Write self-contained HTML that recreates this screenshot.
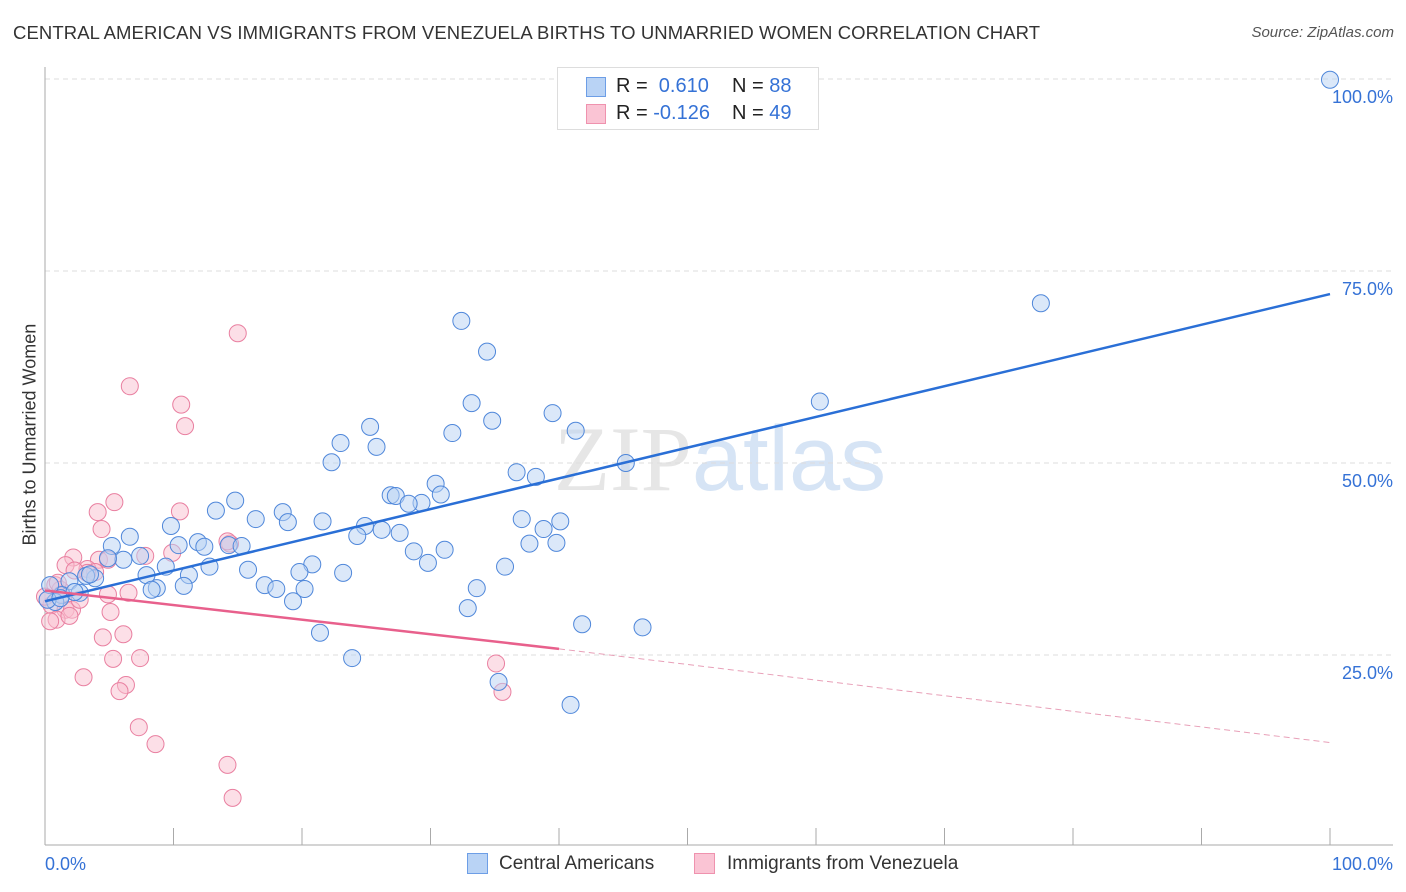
<!DOCTYPE html>
<html><head><meta charset="utf-8"><style>
body{margin:0;background:#fff;font-family:"Liberation Sans",sans-serif;}
#wrap{position:relative;width:1406px;height:892px;overflow:hidden;}
.t{position:absolute;white-space:nowrap;}
</style></head><body>
<div id="wrap">
<div class="t" style="left:13px;top:22px;font-size:18.5px;letter-spacing:0.1px;color:#333;">CENTRAL AMERICAN VS IMMIGRANTS FROM VENEZUELA BIRTHS TO UNMARRIED WOMEN CORRELATION CHART</div>
<div class="t" style="right:12px;top:24px;font-size:15px;color:#555;font-style:italic;">Source: ZipAtlas.com</div>
<div class="t" style="left:-60px;top:445px;font-size:18px;color:#333;transform:rotate(-90deg);width:180px;text-align:center;">Births to Unmarried Women</div>
<svg id="svg" width="1406" height="892" style="position:absolute;left:0;top:0"></svg>
<div style="position:absolute;left:557px;top:67px;width:262px;height:63px;border:1px solid #ddd;background:#fff;box-sizing:border-box;">
<div style="position:absolute;left:28px;top:9px;width:20px;height:20px;background:#b9d3f5;border:1px solid #6d9ee6;box-sizing:border-box"></div>
<div style="position:absolute;left:28px;top:36px;width:20px;height:20px;background:#fac4d4;border:1px solid #ef92ae;box-sizing:border-box"></div>
<div class="t" style="left:58px;top:7px;font-size:20px;color:#222">R = &nbsp;<span style="color:#3572d6">0.610</span></div>
<div class="t" style="left:174px;top:7px;font-size:20px;color:#222">N = <span style="color:#3572d6">88</span></div>
<div class="t" style="left:58px;top:34px;font-size:20px;color:#222">R = <span style="color:#3572d6">-0.126</span></div>
<div class="t" style="left:174px;top:34px;font-size:20px;color:#222">N = <span style="color:#3572d6">49</span></div>
</div>
<div>
<div style="position:absolute;left:467px;top:853px;width:21px;height:21px;background:#b9d3f5;border:1px solid #6d9ee6;box-sizing:border-box"></div>
<div class="t" style="left:499px;top:853px;font-size:19px;color:#333">Central Americans</div>
<div style="position:absolute;left:694px;top:853px;width:21px;height:21px;background:#fac4d4;border:1px solid #ef92ae;box-sizing:border-box"></div>
<div class="t" style="left:727px;top:853px;font-size:19px;color:#333">Immigrants from Venezuela</div>
</div>
</div>
<script>
const yTicks=[25,50,75,100];
const xTickLabels=["0.0%","100.0%"];
const blueX=[100,77.5,60.3,45.2,32.4,34.4,33.2,34.8,31.7,39.5,41.3,25.3,23,25.8,22.3,36.7,38.2,30.4,30.8,26.9,27.3,29.3,28.3,14.8,13.3,18.5,16.4,18.9,21.6,9.8,24.9,26.2,24.3,27.6,37.1,40.1,38.8,6.6,11.9,10.4,14.3,15.3,12.4,5.2,37.7,39.8,31.1,28.7,7.4,6.1,4.9,9.4,12.8,15.8,20.8,19.8,29.8,35.8,23.2,7.9,11.2,3.9,1.9,3.2,17.1,18,20.2,10.8,8.7,8.3,33.6,2.7,1.3,0.4,0.8,0.2,19.3,32.9,41.8,46.5,21.4,23.9,35.3,40.9,1.2,3.5,2.3];
const blueY=[99.9,70.8,58,50,68.5,64.5,57.8,55.5,53.9,56.5,54.2,54.7,52.6,52.1,50.1,48.8,48.2,47.3,45.9,45.8,45.7,44.8,44.7,45.1,43.8,43.6,42.7,42.3,42.4,41.8,41.8,41.3,40.5,40.9,42.7,42.4,41.4,40.4,39.7,39.3,39.3,39.2,39.1,39.2,39.5,39.6,38.7,38.5,37.9,37.4,37.6,36.5,36.5,36.1,36.8,35.8,37,36.5,35.7,35.4,35.4,35,34.6,35.3,34.1,33.6,33.6,34,33.7,33.5,33.7,33.1,32.8,34.1,31.9,32.2,32,31.1,29,28.6,27.9,24.6,21.5,18.5,32.4,35.5,33.2];
const pinkX=[15,6.6,10.6,10.9,5.4,4.1,4.4,10.5,14.4,9.9,7.8,14.2,2.2,1.6,4.2,4.9,3.3,3.9,0.8,1.2,0.2,0.5,1.6,2.1,2.7,4.9,6.5,5.1,0.9,1.9,0.4,4.5,6.1,3.0,5.3,7.4,6.3,5.8,7.3,8.6,14.2,14.6,35.1,35.6,3.3,1.3,0,2.3,1.0];
const pinkY=[66.9,60,57.6,54.8,44.9,43.6,41.4,43.7,39.5,38.3,37.9,39.8,37.7,36.7,37.4,37.4,36.2,35.8,34.1,33.5,32.2,31.5,30.9,30.9,32.2,32.9,33.1,30.6,29.6,30.1,29.4,27.3,27.7,22.1,24.5,24.6,21.1,20.3,15.6,13.4,10.7,6.4,23.9,20.2,35.7,32.9,32.6,36.0,34.4];
const blueLine=[[0,32],[100,72]];
const pinkLine=[[0,33.4],[40,25.8],[100,13.6]];
const X0=45,X1=1330,Y0=847,Y100=79;
const sx=v=>X0+(X1-X0)*v/100, sy=v=>Y0+(Y100-Y0)*v/100;
const svg=document.getElementById('svg'),NS="http://www.w3.org/2000/svg";
function mk(t,a,p){const e=document.createElementNS(NS,t);for(const k in a)e.setAttribute(k,a[k]);(p||svg).appendChild(e);return e;}
let wm=mk('text',{x:720,y:490,'font-size':92,'text-anchor':'middle','font-family':'Liberation Serif, serif',fill:'#e6e6e6'});


wm.innerHTML='ZIP<tspan font-family="Liberation Sans, sans-serif" fill="#d6e4f5">atlas</tspan>';
yTicks.forEach(v=>{
 const g=mk('line',{x1:X0,x2:1393,y1:sy(v),y2:sy(v),stroke:'#ddd','stroke-dasharray':'5,4'});
 
 
 const t=mk('text',{x:1393,y:sy(v)+24,'text-anchor':'end','font-size':18,fill:'#3572d6','font-family':'Liberation Sans, sans-serif'});
 
 
 t.textContent=v.toFixed(1)+'%';
});
let ax=mk('line',{x1:X0,x2:X0,y1:67,y2:845,stroke:'#aaa'});


let bx=mk('line',{x1:X0,x2:1393,y1:845,y2:845,stroke:'#aaa'});


for(let i=0;i<=10;i++){const tk=mk('line',{x1:sx(i*10),x2:sx(i*10),y1:828,y2:845,stroke:'#aaa'});
 
 }
[[0,'start',X0],[1,'end',1393]].forEach(([i,a,x])=>{const t=mk('text',{x:x,y:870,'text-anchor':a,'font-size':18,fill:'#3572d6','font-family':'Liberation Sans, sans-serif'});
 
 
 t.textContent=xTickLabels[i];});
function dots(xs,ys,fill,stroke,name){xs.forEach((x,i)=>{const c=mk('circle',{cx:sx(x),cy:sy(ys[i]),r:8.5,fill:fill,'fill-opacity':0.5,stroke:stroke,'stroke-width':1});
 
 });}
dots(pinkX,pinkY,'#f9bfd0','#e97fa0','venezuela-point');
dots(blueX,blueY,'#b7d2f4','#4f87da','central-american-point');
let bl=mk('line',{x1:sx(blueLine[0][0]),y1:sy(blueLine[0][1]),x2:sx(blueLine[1][0]),y2:sy(blueLine[1][1]),stroke:'#2a6fd6','stroke-width':2.5});


let pl=mk('line',{x1:sx(pinkLine[0][0]),y1:sy(pinkLine[0][1]),x2:sx(pinkLine[1][0]),y2:sy(pinkLine[1][1]),stroke:'#e8608c','stroke-width':2.5});


let pd=mk('line',{x1:sx(pinkLine[1][0]),y1:sy(pinkLine[1][1]),x2:sx(pinkLine[2][0]),y2:sy(pinkLine[2][1]),stroke:'#e8a0b8','stroke-width':1,'stroke-dasharray':'6,4'});


</script>
</body></html>
